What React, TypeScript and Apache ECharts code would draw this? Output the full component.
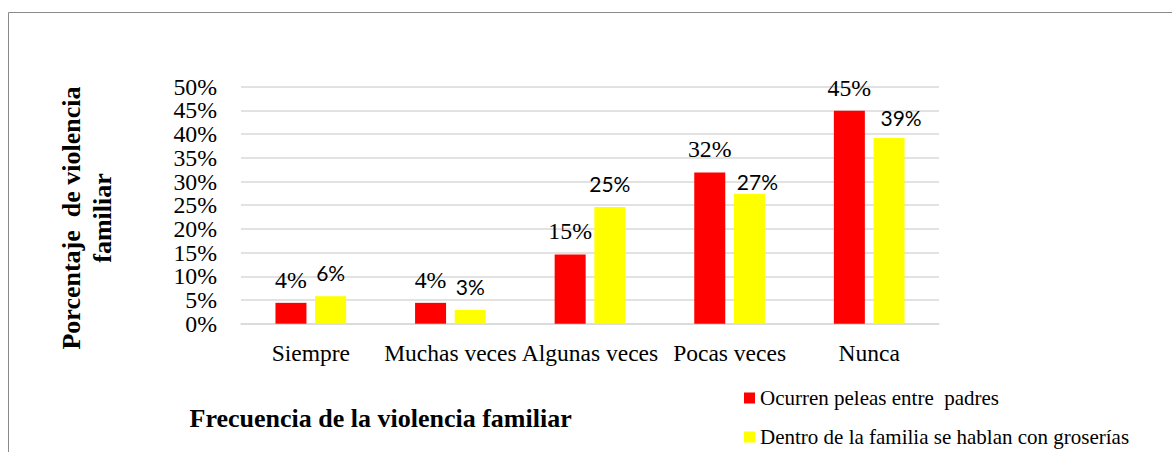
import React, { useEffect, useRef } from "react";
import * as echarts from "echarts";

const categories = ["Siempre", "Muchas veces", "Algunas veces", "Pocas veces", "Nunca"];
const seriesNames = ["Ocurren peleas entre  padres", "Dentro de la familia se hablan con groserías"];
const redValues = [4.4, 4.4, 14.6, 31.9, 44.9];
const yellowValues = [5.8, 2.9, 24.6, 27.4, 39.2];
const yTicksEven = [0, 10, 20, 30, 40, 50];
const yTicksOdd = [5, 15, 25, 35, 45];
const yTitle = "Porcentaje  de violencia\nfamiliar";
const xTitle = "Frecuencia de la violencia familiar";

const SERIF = "Liberation Serif";
const SANS = "Lato";

const yellowLabelOffsets: Record<number, [number, number]> = { 3: [8, 11], 4: [12, 3] };

export default function App() {
  const ref = useRef<HTMLDivElement>(null);
  useEffect(() => {
    if (!ref.current) return;
    const chart = echarts.init(ref.current, null, { renderer: "svg" });
    const pct = (p: any) => Math.round(p.value) + "%";
    const legendBase = {
      orient: "horizontal",
      left: 744,
      padding: 0,
      icon: "rect",
      itemWidth: 11,
      itemHeight: 11,
      textStyle: { fontFamily: SERIF, fontSize: 21, color: "#000" },
    };
    const yLabelBase = {
      formatter: "{value}%",
      margin: 24,
      fontFamily: SERIF,
      fontSize: 23.8,
      color: "#000",
    };
    chart.setOption({
      animation: false,
      backgroundColor: "#ffffff",
      grid: { left: 241, right: 233, top: 86.7, bottom: 128.3, containLabel: false },
      legend: [
        { ...legendBase, top: 387.5, data: [seriesNames[0]] },
        { ...legendBase, top: 426.5, data: [seriesNames[1]] },
      ],
      xAxis: {
        type: "category",
        data: categories,
        axisLine: { show: true, lineStyle: { color: "#d9d9d9", width: 1.5 } },
        axisTick: { show: false },
        axisLabel: {
          interval: 0,
          hideOverlap: false,
          margin: 17,
          fontFamily: SERIF,
          fontSize: 23.5,
          color: "#000",
        },
      },
      yAxis: [
        {
          type: "value",
          min: 0,
          max: 50,
          interval: 5,
          position: "left",
          axisLine: { show: false },
          axisTick: { show: false },
          splitLine: { lineStyle: { color: "#d9d9d9", width: 1.5 } },
          axisLabel: { ...yLabelBase, customValues: yTicksEven },
        },
        {
          type: "value",
          min: 0,
          max: 50,
          interval: 5,
          position: "left",
          axisLine: { show: false },
          axisTick: { show: false },
          splitLine: { show: false },
          axisLabel: { ...yLabelBase, customValues: yTicksOdd },
        },
      ],
      series: [
        {
          name: seriesNames[0],
          type: "bar",
          data: redValues,
          barWidth: 31,
          barGap: "28%",
          itemStyle: { color: "#ff0000" },
          label: {
            show: true,
            position: "top",
            distance: 11,
            formatter: pct,
            fontFamily: SERIF,
            fontSize: 23.8,
            color: "#000",
          },
        },
        {
          name: seriesNames[1],
          type: "bar",
          data: yellowValues.map((v, i) =>
            yellowLabelOffsets[i] ? { value: v, label: { offset: yellowLabelOffsets[i] } } : v
          ),
          barWidth: 31,
          barGap: "28%",
          itemStyle: { color: "#ffff00" },
          label: {
            show: true,
            position: "top",
            distance: 13,
            formatter: pct,
            fontFamily: SANS,
            fontSize: 21,
            color: "#000",
          },
        },
      ],
      graphic: [
        {
          type: "line",
          shape: { x1: 8.5, y1: 12.5, x2: 1172, y2: 12.5 },
          style: { stroke: "#8a8a8a", lineWidth: 1 },
        },
        {
          type: "line",
          shape: { x1: 8.5, y1: 12.5, x2: 8.5, y2: 452 },
          style: { stroke: "#8a8a8a", lineWidth: 1 },
        },
        {
          type: "text",
          x: 86.5,
          y: 218,
          rotation: Math.PI / 2,
          style: {
            text: yTitle,
            fontFamily: SERIF,
            fontWeight: "bold",
            fontSize: 26,
            lineHeight: 31,
            align: "center",
            verticalAlign: "middle",
            fill: "#000",
          },
        },
        {
          type: "text",
          x: 189.5,
          y: 418,
          style: {
            text: xTitle,
            fontFamily: SERIF,
            fontWeight: "bold",
            fontSize: 26,
            align: "left",
            verticalAlign: "middle",
            fill: "#000",
          },
        },
      ],
    });
    return () => chart.dispose();
  }, []);
  return (
    <div
      ref={ref}
      style={{ position: "absolute", left: 0, top: 0, width: 1172, height: 452 }}
    />
  );
}
